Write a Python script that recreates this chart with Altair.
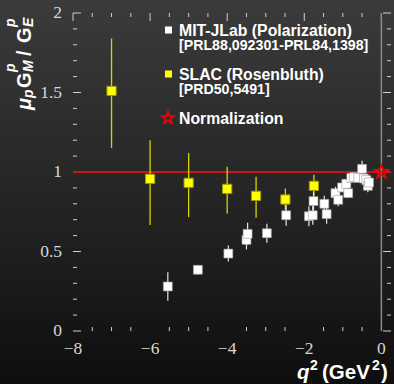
import altair as alt
import pandas as pd

# ---------------- data ----------------
# MIT-JLab (polarization transfer) points
mit_q2 = [-5.54, -4.76, -3.97, -3.50, -3.47, -2.97, -2.47, -1.88, -1.78, -1.76,
          -1.48, -1.42, -1.19, -1.12, -1.02, -0.91, -0.86, -0.78, -0.71, -0.60,
          -0.50, -0.45, -0.39, -0.35, -0.32]
mit_val = [0.280, 0.385, 0.487, 0.573, 0.611, 0.615, 0.728, 0.722, 0.728, 0.817,
           0.800, 0.735, 0.867, 0.825, 0.903, 0.926, 0.867, 0.963, 0.968, 0.963,
           1.020, 0.959, 0.949, 0.913, 0.934]
mit_err = [0.090, 0.030, 0.050, 0.060, 0.070, 0.060, 0.066, 0.063, 0.060, 0.060,
           0.050, 0.060, 0.040, 0.040, 0.030, 0.030, 0.030, 0.030, 0.030, 0.030,
           0.050, 0.030, 0.030, 0.040, 0.030]

# SLAC (Rosenbluth) points
slac_q2 = [-7.00, -6.00, -5.00, -4.00, -3.25, -2.49, -1.75]
slac_val = [1.51, 0.957, 0.932, 0.894, 0.850, 0.827, 0.913]
slac_lo = [1.15, 0.667, 0.716, 0.739, 0.713, 0.760, 0.846]
slac_hi = [1.84, 1.200, 1.120, 1.033, 0.970, 0.896, 0.982]

# normalization point
norm_q2 = [0.0]
norm_val = [1.0]

legend_labels = ["MIT-JLab (Polarization)", "SLAC (Rosenbluth)", "Normalization"]
legend_refs = ["[PRL88,092301-PRL84,1398]", "[PRD50,5491]"]

x_label_values = [-8, -6, -4, -2, 0]
x_label_text = ["\u22128", "\u22126", "\u22124", "\u22122", "0"]
x_minor_ticks = [-7.5, -7, -6.5, -5.5, -5, -4.5, -3.5, -3, -2.5, -1.5, -1, -0.5]
y_label_values = [0, 0.5, 1, 1.5, 2]
y_label_text = ["0", "0.5", "1", "1.5", "2"]
y_minor_ticks = [0.1, 0.2, 0.3, 0.4, 0.6, 0.7, 0.8, 0.9, 1.1, 1.2, 1.3, 1.4,
                 1.6, 1.7, 1.8, 1.9]

# ---------------- chart ----------------
W, H = 318, 318
xs = alt.Scale(domain=[-8, 0.25], nice=False, zero=False)
ys = alt.Scale(domain=[0, 2], nice=False, zero=False)

STAR = ("M0,-1L0.2245,-0.309L0.951,-0.309L0.363,0.118L0.588,0.809L0,0.382"
        "L-0.588,0.809L-0.363,0.118L-0.951,-0.309L-0.2245,-0.309Z")

mit = pd.DataFrame({"x": mit_q2, "y": mit_val,
                    "lo": [v - e for v, e in zip(mit_val, mit_err)],
                    "hi": [v + e for v, e in zip(mit_val, mit_err)]})
slac = pd.DataFrame({"x": slac_q2, "y": slac_val, "lo": slac_lo, "hi": slac_hi})
norm = pd.DataFrame({"x": norm_q2, "y": norm_val})
one = pd.DataFrame({"a": [0]})
xlab = pd.DataFrame({"x": x_label_values, "t": x_label_text})
ylab = pd.DataFrame({"y": y_label_values, "t": y_label_text})

tick_col = "#cfcfcf"
lab_col = "#d8d8d8"

def X():
    return alt.X("x:Q", scale=xs, axis=None)

def Y(field="y"):
    return alt.Y(f"{field}:Q", scale=ys, axis=None)

# background: vertical grey gradient from thick horizontal bands on the shared y scale
NB = 70
Y_TOP, Y_BOT = 2.09, -0.34          # whole canvas height in y units (13 px above, 53 px below)
band_y = [Y_BOT + (Y_TOP - Y_BOT) * k / (NB - 1) for k in range(NB)]
bands = pd.DataFrame({"y": band_y})
bg = alt.Chart(bands).mark_rule(strokeWidth=6.5, opacity=1, strokeCap="butt").encode(
    x=alt.value(-73), x2=alt.value(W + 3),
    y=Y(),
    color=alt.Color("y:Q", scale=alt.Scale(domain=[Y_BOT, 0.9, Y_TOP],
                                           range=["#0e0e0e", "#262626", "#3b3b3b"],
                                           interpolate="rgb"), legend=None),
)

# ticks (inward, ROOT style)
def xticks(vals, length):
    df = pd.DataFrame({"x": vals})
    bot = alt.Chart(df).mark_rule(color=tick_col, strokeWidth=1).encode(
        x=X(), y=alt.value(H), y2=alt.value(H - length))
    top = alt.Chart(df).mark_rule(color=tick_col, strokeWidth=1).encode(
        x=X(), y=alt.value(0), y2=alt.value(length))
    return [bot, top]

def yticks(vals, length):
    df = pd.DataFrame({"y": vals})
    left = alt.Chart(df).mark_rule(color=tick_col, strokeWidth=1).encode(
        y=Y(), x=alt.value(0), x2=alt.value(length))
    right = alt.Chart(df).mark_rule(color=tick_col, strokeWidth=1).encode(
        y=Y(), x=alt.value(W), x2=alt.value(W - length))
    return [left, right]

ticks = (xticks(x_label_values, 8) + xticks(x_minor_ticks, 4)
         + yticks(y_label_values, 8) + yticks(y_minor_ticks, 4))

xlabels = alt.Chart(xlab).mark_text(
    font="Liberation Serif", fontSize=17.5, color=lab_col, align="center",
    baseline="alphabetic").encode(x=X(), y=alt.value(H + 23), text="t:N")
ylabels = alt.Chart(ylab).mark_text(
    font="Liberation Serif", fontSize=17.5, color=lab_col, align="right",
    baseline="middle").encode(y=Y(), x=alt.value(-11), text="t:N")

zero_line = alt.Chart(norm).mark_rule(color="#8a8a8a", strokeWidth=1.5).encode(x=X())
red_line = alt.Chart(norm).mark_rule(color="#c8141a", strokeWidth=2).encode(y=Y())

slac_bars = alt.Chart(slac).mark_rule(color="#d8d400", strokeWidth=1.3).encode(
    x=X(), y=Y("lo"), y2="hi:Q")
mit_bars = alt.Chart(mit).mark_rule(color="#e6e6e6", strokeWidth=1.2).encode(
    x=X(), y=Y("lo"), y2="hi:Q")
slac_pts = alt.Chart(slac).mark_square(size=85, filled=True, color="#ffff00",
                                       stroke="#a09800", strokeWidth=1, opacity=1).encode(
    x=X(), y=Y())
mit_pts = alt.Chart(mit).mark_square(size=80, filled=True, color="#ffffff",
                                     stroke="#9a9a9a", strokeWidth=0.6, opacity=1).encode(
    x=X(), y=Y())
star = alt.Chart(norm).mark_point(shape=STAR, size=200, filled=False, color="#ff0000",
                                  strokeWidth=1.6, opacity=1).encode(x=X(), y=Y())

def txt(s, x, y, size, style="normal", weight="bold", angle=0, color="#ffffff",
        align="left", baseline="alphabetic"):
    return alt.Chart(one).mark_text(
        text=s, fontSize=size, fontStyle=style, fontWeight=weight, angle=angle,
        color=color, align=align, baseline=baseline, font="Liberation Sans"
    ).encode(x=alt.value(x), y=alt.value(y))

# legend
legend = [
    alt.Chart(one).mark_square(size=50, filled=True, color="#ffffff", opacity=1).encode(
        x=alt.value(95.5), y=alt.value(17)),
    txt(legend_labels[0], 106, 23, 15.8),
    txt(legend_refs[0], 106, 37, 14.2),
    alt.Chart(one).mark_square(size=50, filled=True, color="#ffff00", opacity=1).encode(
        x=alt.value(95.5), y=alt.value(61)),
    txt(legend_labels[1], 106, 67, 15.8),
    txt(legend_refs[1], 106, 81, 14.2),
    alt.Chart(one).mark_point(shape=STAR, size=170, filled=False, color="#ff0000",
                              strokeWidth=1.5, opacity=1).encode(
        x=alt.value(95), y=alt.value(105)),
    txt(legend_labels[2], 106, 111, 15.8),
]

# y title: mu_p G_M^p / G_E^p (rotated)
ytitle = [
    txt("μ", -42, 97, 20, style="italic", angle=270),
    txt("p", -40, 85, 14, style="italic", angle=270),
    txt("G", -42, 75, 20, angle=270),
    txt("M", -40, 59, 14, style="italic", angle=270),
    txt("p", -58, 59, 14, style="italic", angle=270),
    txt("/", -42, 43, 20, angle=270),
    txt("G", -42, 30, 20, angle=270),
    txt("E", -40, 14, 14, style="italic", angle=270),
    txt("p", -58, 14, 14, style="italic", angle=270),
]

# x title: q^2 (GeV^2)
xtitle = [
    txt("q", 224, 366, 20.5, style="italic"),
    txt("2", 237, 357, 14),
    txt("(GeV", 249, 366, 20.5),
    txt("2", 299, 357, 14),
    txt(")", 308, 366, 20.5),
]

layers = (ticks[:1] + [bg] + ticks[1:]
          + [zero_line, red_line, slac_bars, mit_bars, slac_pts, mit_pts, star,
             xlabels, ylabels]
          + legend + ytitle + xtitle)

chart = alt.layer(*layers).properties(
    width=W, height=H,
    autosize=alt.AutoSizeParams(type="none"),
    padding={"left": 73, "top": 13, "right": 3, "bottom": 53},
    background="#222222",
).configure_view(
    stroke="#d6d6d6", strokeWidth=1.5
)

chart.save("out.html", embed_options={"renderer": "svg", "actions": False})
